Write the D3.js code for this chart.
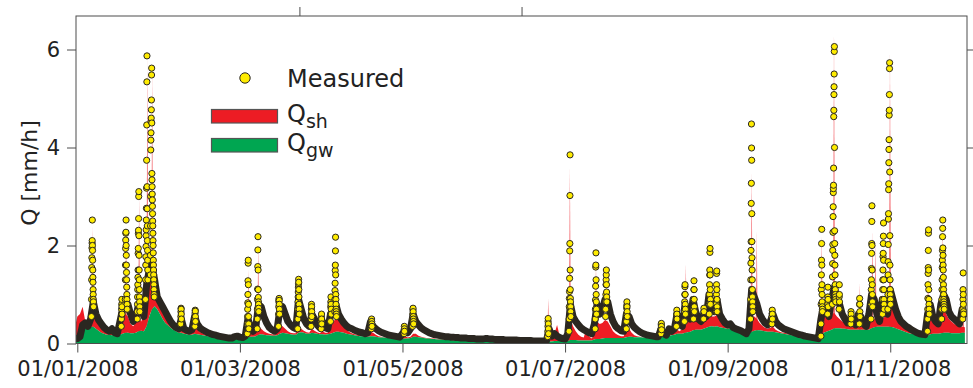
<!DOCTYPE html>
<html><head><meta charset="utf-8">
<script src="https://cdn.jsdelivr.net/npm/d3@7"></script>
<style>
html,body{margin:0;padding:0;background:#fff;}
svg{display:block;font-family:"DejaVu Sans",sans-serif;}
</style></head><body>
<svg id="chart" width="973" height="388"></svg>
<script>
// ---------- DATA (days since 01/01/2008, Q in mm/h) ----------
const dayStart = -1;
const measuredDaily = [
0.10,
0.10,0.14,0.38,0.42,0.35,0.5,0.85,0.6,0.48,0.4,
0.33,0.28,0.25,0.3,0.22,0.2,0.45,0.7,0.75,0.8,
0.6,0.45,0.55,0.8,0.7,0.55,1.2,1.5,1.6,1.3,
0.95,0.85,0.75,0.65,0.55,0.45,0.38,0.33,0.3,0.5,
0.3,0.27,0.25,0.28,0.55,0.4,0.32,0.28,0.25,0.22,
0.2,0.18,0.17,0.15,0.14,0.13,0.12,0.11,0.11,0.14,
0.15,0.13,0.12,0.15,0.5,0.35,0.25,0.35,0.8,0.75,
0.55,0.42,0.33,0.28,0.25,0.3,0.7,0.75,0.6,0.45,
0.38,0.33,0.3,0.9,0.7,0.5,0.4,0.35,0.6,0.5,
0.38,0.32,0.45,0.32,0.3,0.6,0.7,0.8,0.6,0.5,
0.42,0.36,0.32,0.3,0.27,0.25,0.23,0.22,0.2,0.22,
0.45,0.35,0.3,0.26,0.23,0.21,0.19,0.17,0.16,0.15,
0.14,0.13,0.2,0.28,0.22,0.3,0.6,0.45,0.38,0.32,
0.28,0.25,0.22,0.2,0.18,0.17,0.16,0.15,0.14,0.14,
0.13,0.13,0.12,0.12,0.11,0.11,0.11,0.1,0.1,0.1,
0.09,0.09,0.09,0.1,0.1,0.09,0.09,0.08,0.08,0.08,
0.08,0.07,0.07,0.07,0.07,0.07,0.06,0.06,0.06,0.06,
0.06,0.05,0.05,0.05,0.05,0.05,0.05,0.3,0.15,0.2,
0.15,0.12,0.1,0.09,0.2,0.8,0.55,0.45,0.38,0.32,
0.28,0.25,0.22,0.2,0.4,0.8,0.6,0.7,0.9,0.85,
0.6,0.45,0.35,0.3,0.26,0.25,0.6,0.55,0.4,0.33,
0.28,0.24,0.21,0.19,0.17,0.16,0.15,0.14,0.14,0.3,
0.2,0.17,0.3,0.25,0.3,0.6,0.4,0.35,0.8,0.6,
0.5,0.9,0.65,0.5,0.45,0.6,0.55,1.0,0.8,0.65,
0.9,0.6,0.5,0.42,0.38,0.4,0.33,0.3,0.28,0.26,
0.23,0.2,0.3,1.1,0.95,0.8,0.6,0.5,0.42,0.38,
0.45,0.6,0.45,0.38,0.34,0.3,0.28,0.26,0.24,0.22,
0.2,0.18,0.17,0.15,0.14,0.13,0.12,0.11,0.1,0.5,
0.8,0.7,0.55,0.9,1.15,0.9,0.8,0.6,0.5,0.42,
0.5,0.45,0.38,0.6,0.55,0.4,0.35,0.6,1.0,0.9,
0.6,0.45,0.9,0.7,0.6,1.1,0.9,0.7,0.55,0.45,
0.4,0.35,0.32,0.28,0.25,0.22,0.2,0.19,0.18,0.6,
0.8,0.55,0.45,0.4,0.8,1.0,0.9,0.65,0.55,0.5,
0.45,0.4,0.7,0.6
];
const qgwDaily = [
0.12,
0.12,0.15,0.22,0.3,0.33,0.34,0.34,0.3,0.26,0.22,
0.2,0.18,0.18,0.17,0.17,0.17,0.18,0.2,0.22,0.22,
0.21,0.21,0.22,0.25,0.26,0.25,0.35,0.55,0.7,0.76,
0.7,0.6,0.5,0.42,0.37,0.32,0.28,0.25,0.22,0.22,
0.2,0.19,0.18,0.18,0.2,0.19,0.18,0.17,0.16,0.15,
0.14,0.14,0.13,0.13,0.12,0.12,0.11,0.11,0.1,0.1,
0.1,0.1,0.1,0.1,0.13,0.14,0.14,0.15,0.18,0.19,
0.18,0.17,0.17,0.16,0.16,0.17,0.2,0.22,0.21,0.2,
0.19,0.18,0.18,0.22,0.23,0.22,0.2,0.2,0.22,0.21,
0.2,0.19,0.19,0.18,0.19,0.2,0.22,0.24,0.24,0.23,
0.22,0.2,0.19,0.18,0.17,0.16,0.15,0.15,0.14,0.14,
0.15,0.15,0.14,0.13,0.12,0.12,0.11,0.11,0.1,0.1,
0.09,0.09,0.09,0.1,0.1,0.11,0.14,0.14,0.13,0.12,
0.11,0.1,0.1,0.09,0.09,0.08,0.08,0.08,0.07,0.07,
0.07,0.06,0.06,0.06,0.06,0.06,0.06,0.06,0.06,0.06,
0.06,0.05,0.05,0.05,0.05,0.05,0.05,0.05,0.05,0.05,
0.05,0.04,0.04,0.04,0.04,0.04,0.04,0.04,0.04,0.04,
0.04,0.03,0.03,0.03,0.03,0.03,0.03,0.04,0.04,0.05,
0.05,0.05,0.05,0.05,0.05,0.07,0.07,0.07,0.06,0.06,
0.06,0.06,0.06,0.06,0.08,0.09,0.09,0.1,0.11,0.11,
0.11,0.11,0.11,0.11,0.11,0.11,0.13,0.14,0.14,0.13,
0.13,0.13,0.12,0.12,0.12,0.12,0.12,0.12,0.12,0.13,
0.14,0.15,0.16,0.17,0.18,0.2,0.2,0.2,0.22,0.23,
0.24,0.27,0.28,0.28,0.28,0.3,0.32,0.34,0.35,0.34,
0.35,0.33,0.32,0.31,0.3,0.31,0.3,0.28,0.26,0.24,
0.22,0.2,0.2,0.24,0.26,0.27,0.27,0.26,0.25,0.24,
0.24,0.24,0.23,0.22,0.21,0.2,0.19,0.18,0.17,0.16,
0.15,0.14,0.13,0.12,0.11,0.1,0.09,0.08,0.07,0.1,
0.22,0.24,0.26,0.28,0.31,0.31,0.31,0.3,0.3,0.29,
0.28,0.28,0.28,0.28,0.28,0.28,0.28,0.28,0.31,0.33,
0.34,0.34,0.34,0.34,0.34,0.34,0.33,0.31,0.29,0.27,
0.25,0.23,0.21,0.2,0.19,0.17,0.16,0.15,0.14,0.16,
0.19,0.2,0.2,0.2,0.21,0.22,0.22,0.22,0.21,0.21,
0.21,0.21,0.22,0.22
];
// simulated total (Q_gw + Q_sh): top of the red band
const qTotalDaily = [
0.3,
0.55,0.6,0.75,0.45,0.4,0.5,0.65,0.5,0.38,0.3,
0.25,0.22,0.2,0.22,0.19,0.19,0.35,0.55,0.6,0.55,
0.4,0.35,0.45,0.55,0.45,0.6,1.6,1.65,1.5,1.2,
1.0,0.95,0.75,0.6,0.5,0.4,0.34,0.3,0.27,0.4,
0.26,0.23,0.22,0.22,0.4,0.3,0.24,0.21,0.18,0.17,
0.16,0.15,0.14,0.14,0.13,0.13,0.12,0.12,0.11,0.11,
0.11,0.11,0.11,0.12,0.3,0.25,0.2,0.3,0.36,0.3,
0.25,0.22,0.2,0.19,0.18,0.22,0.38,0.35,0.3,0.25,
0.22,0.21,0.21,0.34,0.3,0.26,0.23,0.22,0.3,0.26,
0.23,0.21,0.25,0.22,0.22,0.35,0.45,0.5,0.55,0.45,
0.35,0.28,0.24,0.21,0.19,0.18,0.17,0.16,0.15,0.16,
0.24,0.22,0.18,0.15,0.14,0.13,0.12,0.12,0.11,0.11,
0.1,0.1,0.12,0.15,0.12,0.14,0.2,0.2,0.16,0.14,
0.12,0.11,0.11,0.1,0.1,0.09,0.09,0.09,0.08,0.08,
0.08,0.07,0.07,0.07,0.07,0.07,0.07,0.07,0.07,0.07,
0.07,0.06,0.06,0.06,0.06,0.06,0.06,0.06,0.06,0.06,
0.06,0.05,0.05,0.05,0.05,0.05,0.05,0.05,0.05,0.05,
0.05,0.04,0.04,0.04,0.04,0.04,0.04,0.15,0.1,0.2,
0.38,0.15,0.08,0.07,0.1,0.5,0.35,0.25,0.18,0.14,
0.12,0.3,0.15,0.1,0.2,0.45,0.4,0.42,0.48,0.45,
0.35,0.25,0.2,0.17,0.15,0.15,0.34,0.3,0.22,0.17,
0.15,0.14,0.13,0.13,0.13,0.13,0.13,0.13,0.13,0.24,
0.16,0.16,0.2,0.19,0.25,0.28,0.25,0.3,0.55,0.55,
0.5,0.6,0.6,0.55,0.5,0.55,0.55,0.58,0.55,0.55,
0.58,0.5,0.45,0.42,0.4,0.4,0.36,0.33,0.3,0.28,
0.25,0.23,0.3,0.55,0.55,0.5,0.42,0.36,0.32,0.3,
0.32,0.34,0.28,0.25,0.23,0.22,0.21,0.2,0.19,0.18,
0.17,0.16,0.15,0.14,0.12,0.11,0.1,0.09,0.08,0.3,
0.6,0.55,0.5,0.6,0.62,0.55,0.5,0.45,0.42,0.4,
0.42,0.4,0.38,0.42,0.45,0.42,0.42,0.45,0.5,0.5,
0.48,0.45,0.5,0.55,0.7,0.9,0.75,0.6,0.5,0.42,
0.36,0.32,0.28,0.25,0.22,0.2,0.18,0.17,0.16,0.4,
0.5,0.45,0.4,0.4,0.55,0.9,0.6,0.5,0.45,0.4,
0.38,0.35,0.34,0.33
];
// short hourly Q_sh peaks (thin spikes)
const spikeDays = [5.6,18.3,23.2,26.3,28.1,64.2,67.9,176.7,184.8,194.6,228.3,253.0,254.9,279.3,283.9,293.6,298.3,299.5,304.9,307.0,319.2,324.6,332.4];
const spikeTops = [2.4,2.3,3.0,5.8,5.6,1.5,2.0,0.92,3.6,1.6,1.63,3.5,2.3,2.2,6.4,1.23,2.3,2.1,5.9,0.82,1.4,2.4,1.0];
// hourly measured values during flood events (first value at start day, 1 h apart)
const peakStartDays = [5.3,16.5,18.0,22.5,25.6,27.4,38.8,44.1,63.8,67.5,
75.5,82.7,87.7,91.5,95.0,96.6,110.3,122.6,125.8,176.5,
184.5,194.3,198.2,206.0,219.0,224.8,227.8,231.2,235.0,237.1,
239.7,252.6,260.6,279.0,281.5,283.3,285.8,290.2,293.4,297.8,
302.1,304.1,319.0,324.3,332.2];
const peakValues = [
[0.55,0.9,1.3,1.55,1.75,1.95,2.05,2.1,2.52,2.0,1.9,1.7,1.5,1.35,1.25,1.1,1.0,0.9,0.85,0.75],
[0.35,0.5,0.6,0.7,0.8,0.9,0.75,0.6],
[0.9,1.3,1.6,1.94,2.11,2.25,2.27,2.52,2.0,1.8,1.6,1.45,1.3,1.15,1.0,0.9,0.8,0.7],
[0.5,0.65,0.8,0.95,1.1,1.2,1.35,1.5,1.84,1.94,2.25,2.31,2.55,3.0,3.1,2.2,1.8,1.5,1.3,1.1,0.95,0.85,0.75,0.65],
[0.9,1.3,1.6,1.77,1.98,2.2,2.32,2.52,2.76,3.17,3.74,4.46,5.34,5.87,3.2,2.75,2.4,2.1,1.9,1.7,1.5,1.3],
[1.4,1.8,2.4,3.0,3.95,4.15,4.3,4.53,4.6,4.77,4.97,5.48,5.62,4.5,3.47,3.34,3.2,3.05,2.93,2.8,2.65,2.5,2.4,2.25,2.1,2.0,1.85,1.7,1.6,1.5,1.4,1.3,1.2,1.1,1.0,0.95],
[0.4,0.55,0.65,0.72,0.7,0.6,0.5],
[0.35,0.5,0.62,0.68,0.66,0.55,0.45],
[0.2,0.4,0.55,0.7,0.83,1.0,1.28,1.64,1.7,1.2,0.8,0.55,0.4,0.3],
[0.3,0.5,0.7,0.9,1.11,1.57,1.91,2.18,1.5,1.1,0.94,0.85,0.8,0.72,0.65],
[0.35,0.6,0.75,0.85,0.89,0.92,0.88,0.8,0.7,0.6],
[0.3,0.5,0.7,0.85,0.95,1.05,1.15,1.22,1.31,1.25,1.1,0.95,0.8,0.7,0.6],
[0.35,0.5,0.6,0.7,0.8,0.75,0.65,0.55],
[0.3,0.45,0.55,0.6,0.5,0.4],
[0.45,0.6,0.75,0.85,0.95,0.8,0.7,0.6],
[0.65,0.9,1.08,1.23,1.49,1.6,1.89,2.17,1.4,1.0,0.9,0.8,0.7,0.65,0.6,0.55],
[0.3,0.42,0.48,0.5,0.45,0.4,0.35],
[0.2,0.28,0.35,0.3,0.25],
[0.35,0.5,0.6,0.69,0.72,0.65,0.55,0.5,0.45,0.4],
[0.14,0.25,0.35,0.45,0.51,0.4,0.3,0.2],
[0.25,0.5,0.75,0.92,1.06,1.33,1.89,2.04,3.02,3.85,1.5,1.1,0.92,0.85,0.75,0.65,0.55],
[0.3,0.5,0.7,0.89,1.17,1.56,1.6,1.85,1.3,1.0,0.85,0.7,0.6],
[0.55,0.7,0.85,1.0,1.2,1.3,1.4,1.5,1.2,1.05,0.95,0.85],
[0.3,0.45,0.6,0.72,0.78,0.85,0.75,0.65,0.55],
[0.2,0.3,0.38,0.41,0.35,0.28],
[0.35,0.5,0.6,0.68,0.6,0.5],
[0.45,0.65,0.85,1.0,1.16,1.2,1.0,0.8,0.7,0.6],
[0.5,0.7,0.9,1.1,1.28,1.1,0.9,0.75,0.65],
[0.5,0.65,0.72,0.65],
[0.6,0.8,1.0,1.2,1.4,1.5,1.86,1.94,1.4,1.1,0.9,0.8],
[0.65,0.8,1.0,1.2,1.43,1.48,1.1,0.9,0.75,0.65],
[0.5,0.9,1.3,1.64,1.9,2.08,2.86,3.27,4.48,3.99,3.74,2.65,2.08,1.75,1.5,1.3,1.1,0.95,0.85,0.75,0.65],
[0.4,0.55,0.61,0.68,0.6,0.5],
[0.15,0.4,0.8,1.1,1.4,1.7,2.04,2.33,1.6,1.2,1.0,0.85,0.75,0.7,0.65],
[0.6,0.8,0.95,1.15,0.9,0.75],
[0.8,1.36,1.63,1.9,2.02,2.27,2.59,2.79,3.08,3.16,3.23,3.58,4.63,4.76,5.08,5.24,5.5,5.96,6.06,4.0,2.3,2.04,1.8,1.6,1.4,1.2,1.1,1.0,0.95,0.9,0.85],
[0.7,0.95,1.2,1.0,0.85],
[0.4,0.55,0.65,0.6,0.5],
[0.4,0.6,0.8,0.92,0.8,0.65,0.55],
[0.5,0.8,1.1,1.3,1.53,1.84,2.04,2.49,2.81,2.0,1.5,1.2,1.0,0.85,0.75],
[0.6,0.9,1.1,1.3,1.5,1.77,1.84,2.04,2.19,2.46,1.7,1.3,1.1,0.9,0.8,0.7],
[0.7,1.0,1.4,1.67,2.02,2.54,2.65,3.14,3.26,3.69,3.96,4.16,4.66,4.76,5.08,5.61,5.73,3.5,2.2,1.6,1.3,1.1,1.0,0.9,0.8],
[0.25,0.5,0.7,0.92,1.2,1.43,1.55,1.9,2.25,2.32,1.5,1.1,0.9,0.8,0.7,0.6],
[0.5,0.7,0.9,1.1,1.3,1.55,1.7,1.9,2.18,2.35,2.52,1.95,1.8,1.6,1.5,1.35,1.2,1.1,1.0,0.9,0.85,0.8,0.75,0.7],
[0.5,0.7,0.9,1.1,1.44,1.0,0.8,0.65,0.6]
];
const xTickDays = [0,61,122,183,244,305];
const xTickLabels = ["01/01/2008","01/03/2008","01/05/2008","01/07/2008","01/09/2008","01/11/2008"];
const yTicks = [0,2,4,6];
const topTickDays = [83.33,166.67];
const legendLabels = ["Measured","Q","Q"];
const legendSubs = ["","sh","gw"];

// ---------- CHART ----------
const svg = d3.select("#chart");
const plot = {left:76, right:967, top:16, bottom:343.5};
const x = d3.scaleLinear().domain([-0.49, 333.8]).range([plot.left, plot.right]);
const y = d3.scaleLinear().domain([0, 6.684]).range([plot.bottom, plot.top]);

const COL = {red:"#ed1c24", green:"#00a651", yellow:"#ffec00", edge:"#2b2721", axis:"#4d4d4d", text:"#222"};

svg.append("defs").append("clipPath").attr("id","clip")
  .append("rect").attr("x",plot.left).attr("y",plot.top)
  .attr("width",plot.right-plot.left).attr("height",plot.bottom-plot.top);

const rows = measuredDaily.map((v,i)=>({d:dayStart+i, meas:v, gw:qgwDaily[i], tot:Math.max(qTotalDaily[i], qgwDaily[i])}));

const g = svg.append("g").attr("clip-path","url(#clip)");

// thin hourly Q_sh spikes
const spikeArea = d3.area().x(p=>x(p[0])).y0(y(0)).y1(p=>y(p[1]));
spikeDays.forEach((d,i)=>{
  g.append("path").attr("d", spikeArea([[d-0.45,0],[d,spikeTops[i]],[d+0.45,0]]))
   .attr("fill", COL.red).attr("fill-opacity",0.6);
});
// Q_sh (red) stacked on Q_gw (green)
g.append("path").datum(rows)
  .attr("d", d3.area().x(r=>x(r.d)).y0(r=>y(r.gw)).y1(r=>y(r.tot)))
  .attr("fill", COL.red);
g.append("path").datum(rows)
  .attr("d", d3.area().x(r=>x(r.d)).y0(y(0)).y1(r=>y(r.gw)))
  .attr("fill", COL.green);

// dense hourly measured markers (merged into a dark band)
g.append("path").datum(rows)
  .attr("d", d3.line().x(r=>x(r.d)).y(r=>y(r.meas)))
  .attr("fill","none").attr("stroke", COL.edge).attr("stroke-width",7)
  .attr("stroke-linejoin","round").attr("stroke-linecap","round");

// individual measured points during events
const pts = [];
peakStartDays.forEach((d0,i)=>peakValues[i].forEach((v,j)=>pts.push({d:d0+j/24, q:v})));
g.selectAll("circle.m").data(pts).join("circle").attr("class","m")
  .attr("cx",p=>x(p.d)).attr("cy",p=>y(p.q)).attr("r",3.1)
  .attr("fill",COL.yellow).attr("stroke",COL.edge).attr("stroke-width",1);

// ---------- AXES ----------
const styleAxis = sel => {
  sel.select(".domain").remove();
  sel.selectAll(".tick line").attr("stroke", COL.axis).attr("stroke-width",1);
  sel.selectAll(".tick text").attr("fill", COL.text).attr("font-size",21).attr("font-family","DejaVu Sans, sans-serif");
};
svg.append("g").attr("transform",`translate(${plot.left},0)`)
  .call(d3.axisLeft(y).tickValues(yTicks).tickSize(9).tickPadding(7).tickFormat(d3.format("d")))
  .call(styleAxis);
svg.append("g").attr("transform",`translate(0,${plot.bottom})`)
  .call(d3.axisBottom(x).tickValues(xTickDays).tickSize(9).tickPadding(9).tickFormat((d,i)=>xTickLabels[i]))
  .call(styleAxis);
svg.append("g").attr("transform",`translate(0,${plot.top})`)
  .call(d3.axisTop(x).tickValues(topTickDays).tickSize(9).tickFormat(""))
  .call(styleAxis);
svg.append("g").attr("transform",`translate(${plot.right},0)`)
  .call(d3.axisRight(y).tickValues(yTicks.slice(1)).tickSize(7).tickFormat(""))
  .call(styleAxis);
svg.append("rect").attr("x",plot.left).attr("y",plot.top)
  .attr("width",plot.right-plot.left).attr("height",plot.bottom-plot.top)
  .attr("fill","none").attr("stroke",COL.axis).attr("stroke-width",1);

svg.append("text").attr("transform","translate(37,173) rotate(-90)")
  .attr("text-anchor","middle").attr("font-size",22).attr("fill",COL.text).text("Q [mm/h]");

// ---------- LEGEND ----------
const lg = svg.append("g");
lg.append("circle").attr("cx",245).attr("cy",78).attr("r",5.2)
  .attr("fill",COL.yellow).attr("stroke",COL.edge).attr("stroke-width",1);
lg.append("rect").attr("x",211.5).attr("y",109.5).attr("width",66).attr("height",13.5)
  .attr("fill",COL.red).attr("stroke","#555").attr("stroke-width",1.2);
lg.append("rect").attr("x",211.5).attr("y",138.5).attr("width",66).attr("height",13.5)
  .attr("fill",COL.green).attr("stroke","#555").attr("stroke-width",1.2);
[87,121.5,151].forEach((by,i)=>{
  const t = lg.append("text").attr("x",287).attr("y",by).attr("font-size",24).attr("fill",COL.text).text(legendLabels[i]);
  if (legendSubs[i]) t.append("tspan").attr("font-size",19).attr("dy",6).text(legendSubs[i]);
});
</script>
</body></html>
